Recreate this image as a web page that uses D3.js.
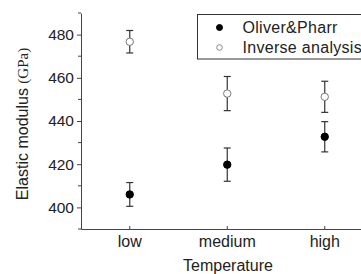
<!DOCTYPE html>
<html>
<head>
<meta charset="utf-8">
<script src="https://cdn.jsdelivr.net/npm/d3@7"></script>
<style>
  body { margin: 0; background: #fff; }
  svg { display: block; font-family: "Liberation Sans", Arial, sans-serif; }
</style>
</head>
<body>
<div class="container"></div>
<script>
// categories and series values (GPa), with error half-widths
const temperatures = ["low", "medium", "high"];
const oliverPharr = [406, 419.8, 432.7];
const oliverPharrErr = [5.5, 7.7, 7];
const inverseAnalysis = [476.7, 452.7, 451.2];
const inverseAnalysisErr = [5.2, 7.9, 7.2];
const yTicks = [400, 420, 440, 460, 480];
const yMinorTicks = [390, 410, 430, 450, 470, 490];

const width = 361;
const height = 274;
const marginLeft = 81;
const marginTop = 13;
const marginBottom = 45;

const svg = d3.select(".container")
  .append("svg")
  .attr("width", width)
  .attr("height", height);

const x = d3.scaleBand()
  .domain(temperatures)
  .range([marginLeft, 373.5]);

const y = d3.scaleLinear()
  .domain([390, 490])
  .range([height - marginBottom, marginTop]);

const axisColor = "#444";

// y axis
const yAxis = svg.append("g")
  .attr("transform", `translate(${marginLeft},0)`)
  .call(d3.axisLeft(y).tickValues(yTicks).tickSize(4).tickPadding(3).tickSizeOuter(0));
yAxis.selectAll("text").attr("font-size", 15.5).attr("fill", "#222")
  .attr("font-family", "Liberation Sans, Arial, sans-serif");

// minor y ticks
svg.append("g")
  .selectAll("line")
  .data(yMinorTicks)
  .enter()
  .append("line")
  .attr("x1", marginLeft - 3)
  .attr("x2", marginLeft)
  .attr("y1", (d) => y(d))
  .attr("y2", (d) => y(d))
  .attr("stroke", axisColor);

// x axis
const xAxis = svg.append("g")
  .attr("transform", `translate(0,${height - marginBottom})`)
  .call(d3.axisBottom(x).tickSize(-3).tickPadding(7).tickSizeOuter(0));
xAxis.selectAll("text").attr("font-size", 16).attr("fill", "#222")
  .attr("font-family", "Liberation Sans, Arial, sans-serif");

svg.selectAll(".domain, .tick line").attr("stroke", axisColor);

// axis titles
svg.append("text")
  .attr("x", 228)
  .attr("y", 271)
  .attr("text-anchor", "middle")
  .attr("font-size", 16)
  .attr("fill", "#222")
  .text("Temperature");

const yLabel = svg.append("text")
  .attr("transform", "translate(28,124) rotate(-90)")
  .attr("text-anchor", "middle")
  .attr("font-size", 16)
  .attr("fill", "#222");
yLabel.append("tspan").text("Elastic modulus ");
yLabel.append("tspan")
  .attr("font-family", "Liberation Serif, Times New Roman, serif")
  .attr("font-size", 15)
  .text("(GPa)");

// error bars + markers
function drawSeries(values, errs, filled) {
  const g = svg.append("g");
  const capW = 3.5;
  values.forEach((v, i) => {
    const cx = x(temperatures[i]) + x.bandwidth() / 2;
    const lo = y(v - errs[i]);
    const hi = y(v + errs[i]);
    g.append("line").attr("x1", cx).attr("x2", cx).attr("y1", lo).attr("y2", hi)
      .attr("stroke", "#333").attr("stroke-width", 1.2);
    [lo, hi].forEach((yy) => {
      g.append("line").attr("x1", cx - capW).attr("x2", cx + capW).attr("y1", yy).attr("y2", yy)
        .attr("stroke", "#333").attr("stroke-width", 1.2);
    });
    g.append("circle")
      .attr("cx", cx)
      .attr("cy", y(v))
      .attr("r", 3.7)
      .attr("fill", filled ? "#000" : "#fff")
      .attr("stroke", filled ? "#000" : "#777")
      .attr("stroke-width", 1);
  });
}
drawSeries(oliverPharr, oliverPharrErr, true);
drawSeries(inverseAnalysis, inverseAnalysisErr, false);

// legend
const legend = svg.append("g");
legend.append("rect")
  .attr("x", 197.5)
  .attr("y", 14.5)
  .attr("width", 180)
  .attr("height", 44.5)
  .attr("fill", "#fff")
  .attr("stroke", "#333");
const legendItems = [
  { label: "Oliver&Pharr", filled: true, cy: 27.5 },
  { label: "Inverse analysis", filled: false, cy: 47.5 }
];
legendItems.forEach((d) => {
  legend.append("circle")
    .attr("cx", 219.5)
    .attr("cy", d.cy)
    .attr("r", d.filled ? 3 : 2.8)
    .attr("fill", d.filled ? "#000" : "#fff")
    .attr("stroke", d.filled ? "#000" : "#888");
  legend.append("text")
    .attr("x", 242.5)
    .attr("y", d.cy + 5)
    .attr("font-size", 16)
    .attr("letter-spacing", 0.3)
    .attr("fill", "#222")
    .text(d.label);
});
</script>
</body>
</html>
